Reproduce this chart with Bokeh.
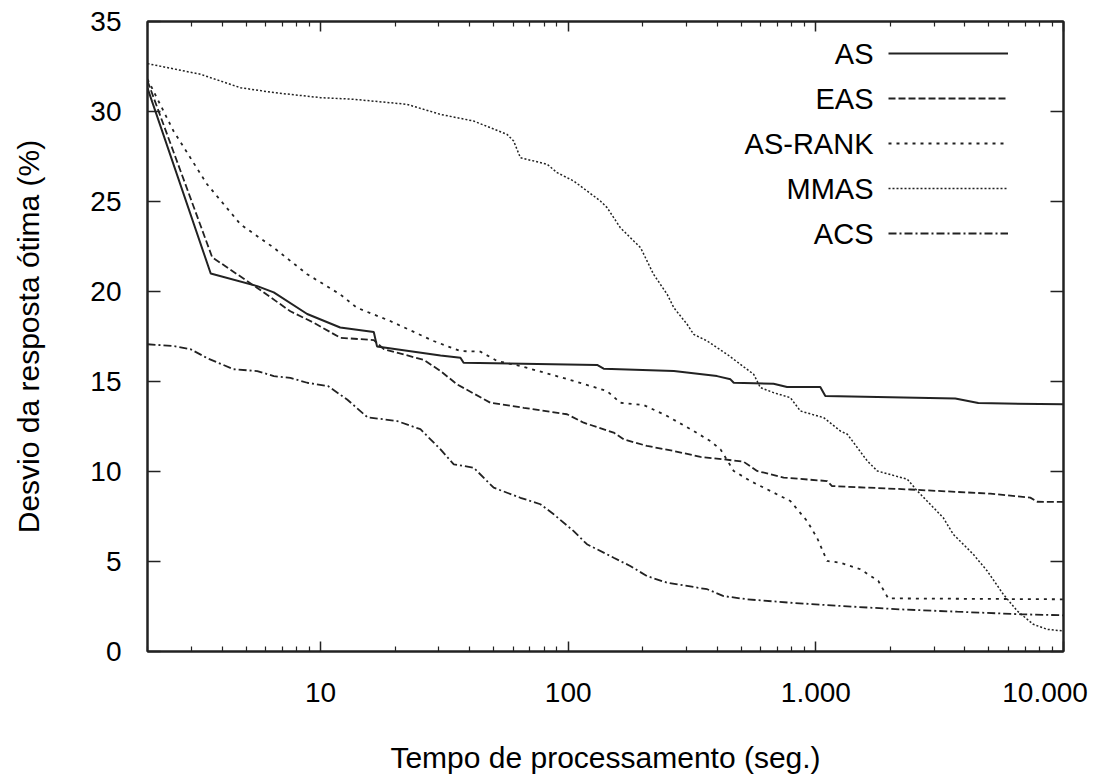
from bokeh.plotting import figure
from bokeh.models import Range1d, LogAxis, LinearAxis, FixedTicker, Legend, LegendItem, Label
from bokeh.embed import file_html
from bokeh.resources import INLINE

# ---------------- data ----------------
series_names = ["AS", "EAS", "AS-RANK", "MMAS", "ACS"]

x_as = [2.0, 3.6, 5.55, 6.47, 8.83, 12.0, 16.4, 16.9, 30.5, 36.7, 37.8, 130.8, 139,
        267, 399, 452, 466, 675, 765, 1042, 1092, 3656, 4528, 10000]
y_as = [31.3, 21.0, 20.3, 19.95, 18.75, 18.0, 17.75, 16.95, 16.45, 16.32, 16.04, 15.92, 15.71,
        15.58, 15.3, 15.12, 14.93, 14.88, 14.69, 14.69, 14.19, 14.05, 13.8, 13.73]

x_eas = [2.0, 3.65, 5.55, 7.55, 9.38, 12.0, 16.4, 18.0, 26.1, 30.5, 35.6, 48.5, 66.1, 98.9,
         115.5, 152.6, 167.4, 208, 267, 342, 424, 511, 579, 741, 1110, 1162, 2406, 5062, 7341,
         7836, 10000]
y_eas = [31.7, 21.9, 20.2, 18.9, 18.27, 17.43, 17.3, 16.8, 16.2, 15.58, 14.84, 13.82, 13.54,
         13.18, 12.71, 12.16, 11.79, 11.42, 11.14, 10.81, 10.68, 10.54, 10.03, 9.66, 9.47, 9.19,
         9.0, 8.77, 8.55, 8.32, 8.31]

x_rank = [2.0, 2.55, 3.48, 4.75, 6.47, 8.83, 12.0, 14.0, 19.1, 28.6, 36.7, 44.2, 51.6, 64.1,
          84.7, 105.2, 143.5, 162.4, 202, 251, 321, 375, 412, 466, 544, 655, 789, 921, 1011,
          1110, 1255, 1512, 1787, 1961, 10000]
y_rank = [31.8, 28.9, 25.96, 23.73, 22.43, 20.96, 19.84, 19.1, 18.36, 17.25, 16.69, 16.66,
          16.14, 15.86, 15.4, 15.03, 14.47, 13.82, 13.69, 13.08, 12.25, 11.69, 11.23, 10.03,
          9.47, 8.92, 8.36, 7.25, 6.32, 5.03, 4.93, 4.57, 3.92, 2.95, 2.9]

x_mmas = [2.0, 3.27, 4.75, 6.47, 10.0, 13.6, 22.3, 30.5, 41.5, 56.6, 60.2, 64.1, 82.2, 90.2,
          105.2, 134.8, 143.5, 162.4, 196, 221, 251, 267, 302, 321, 364, 399, 438, 495, 561,
          597, 675, 789, 866, 1075, 1255, 1340, 1614, 1771, 2340, 2568, 3270, 3589, 4322, 4922,
          5713, 6506, 7549, 8601, 10000]
y_mmas = [32.66, 32.07, 31.32, 31.05, 30.77, 30.68, 30.4, 29.84, 29.47, 28.73, 28.36, 27.43,
          27.07, 26.6, 26.14, 25.03, 24.66, 23.54, 22.43, 20.96, 19.84, 19.1, 18.18, 17.62,
          17.25, 16.88, 16.51, 15.96, 15.4, 14.66, 14.38, 14.1, 13.36, 12.99, 12.25, 12.07,
          10.58, 10.03, 9.57, 8.92, 7.43, 6.51, 5.4, 4.47, 3.18, 2.25, 1.51, 1.23, 1.14]

x_acs = [2.0, 2.55, 2.98, 3.48, 4.45, 5.55, 6.47, 7.55, 8.83, 10.7, 12.8, 15.5, 18.0, 20.4,
         25.3, 30.5, 34.5, 41.5, 50.0, 64.1, 77.2, 87.4, 105.2, 119, 152.6, 178, 208, 251, 364,
         424, 527, 789, 1255, 2193, 3725, 6691, 10000]
y_acs = [17.07, 16.97, 16.8, 16.3, 15.68, 15.58, 15.3, 15.2, 14.93, 14.75, 14.0, 13.0, 12.9,
         12.8, 12.35, 11.23, 10.4, 10.21, 9.1, 8.54, 8.18, 7.62, 6.69, 5.96, 5.21, 4.75, 4.19,
         3.82, 3.46, 3.08, 2.9, 2.71, 2.53, 2.34, 2.21, 2.07, 2.01]

x_major_ticks = [10, 100, 1000, 10000]
x_tick_labels = ["10", "100", "1.000", "10.000\u00a0\u00a0"]
x_minor_ticks = [m * d for d in (1, 10, 100, 1000) for m in range(2, 10)]
y_major_ticks = [0, 5, 10, 15, 20, 25, 30, 35]

x_title = "Tempo de processamento (seg.)"
y_title = "Desvio da resposta ótima (%)"

# ---------------- styling ----------------
FONT = "Liberation Sans"
INK = "#222222"

p = figure(width=1103, height=776, x_axis_type="log",
           x_range=Range1d(2, 10000), y_range=Range1d(0, 35),
           output_backend="svg", toolbar_location=None,
           min_border_left=147, min_border_right=40, min_border_top=21, min_border_bottom=125)
p.xgrid.visible = False
p.ygrid.visible = False
p.outline_line_color = INK
p.outline_line_width = 2
p.background_fill_color = "white"
p.border_fill_color = "white"

xticker = FixedTicker(ticks=x_major_ticks, minor_ticks=x_minor_ticks)
yticker = FixedTicker(ticks=y_major_ticks, minor_ticks=[])


def style_axis(ax, ticker, tick_in, minor_in, show_labels):
    ax.ticker = ticker
    ax.axis_line_color = INK
    ax.axis_line_width = 2
    ax.major_tick_line_color = INK
    ax.major_tick_line_width = 1.5
    ax.minor_tick_line_color = INK if minor_in else None
    ax.minor_tick_line_width = 1.2
    ax.major_tick_in = tick_in
    ax.major_tick_out = 0
    ax.minor_tick_in = minor_in
    ax.minor_tick_out = 0
    if show_labels:
        ax.major_label_text_font = FONT
        ax.major_label_text_font_size = "28px"
        ax.major_label_text_color = "black"
        ax.axis_label_text_font = FONT
        ax.axis_label_text_font_size = "30px"
        ax.axis_label_text_font_style = "normal"
        ax.axis_label_text_color = "black"
    else:
        ax.major_label_text_font_size = "1px"
        ax.major_label_text_alpha = 0
        ax.major_label_standoff = 0


xb = p.xaxis[0]
yl = p.yaxis[0]
style_axis(xb, xticker, 10, 5, True)
style_axis(yl, yticker, 13, 0, True)
xb.major_label_overrides = dict(zip(x_major_ticks, x_tick_labels))
xb.major_label_standoff = 25
xb.axis_label = x_title
xb.axis_label_standoff = 30
yl.axis_label = y_title
yl.major_label_standoff = 26
yl.axis_label_standoff = 42

xt = LogAxis()
style_axis(xt, xticker, 10, 5, False)
p.add_layout(xt, "above")
yr = LinearAxis()
style_axis(yr, yticker, 13, 0, False)
p.add_layout(yr, "right")

# ---------------- lines ----------------
r_as = p.line(x_as, y_as, line_color=INK, line_width=2)
r_eas = p.line(x_eas, y_eas, line_color=INK, line_width=1.8, line_dash="7 3")
r_rank = p.line(x_rank, y_rank, line_color=INK, line_width=1.8, line_dash="3 5")
r_mmas = p.line(x_mmas, y_mmas, line_color=INK, line_width=1.5, line_dash="2 2")
r_acs = p.line(x_acs, y_acs, line_color=INK, line_width=1.8, line_dash="8 3 2 3")
renderers = [r_as, r_eas, r_rank, r_mmas, r_acs]

# legend: line samples on the right (Bokeh legend), names right-aligned to their left
ROW_H, ROW_GAP = 40, 5
legend = Legend(items=[LegendItem(label=" ", renderers=[r]) for r in renderers],
                location=(741, 398), orientation="vertical",
                glyph_width=120, glyph_height=ROW_H, label_height=ROW_H, spacing=ROW_GAP,
                padding=0, margin=0, label_standoff=0,
                label_text_font=FONT, label_text_font_size="29px",
                background_fill_alpha=0, border_line_color=None)
p.add_layout(legend)

top_row = 398 + 5 * ROW_H + 4 * ROW_GAP - ROW_H / 2
for i, name in enumerate(series_names):
    p.add_layout(Label(x=726, y=top_row - i * (ROW_H + ROW_GAP), x_units="screen", y_units="screen",
                       text=name, text_align="right", text_baseline="middle",
                       text_font=FONT, text_font_size="29px", text_color="black"))

open("out.html", "w").write(file_html(p, INLINE))
